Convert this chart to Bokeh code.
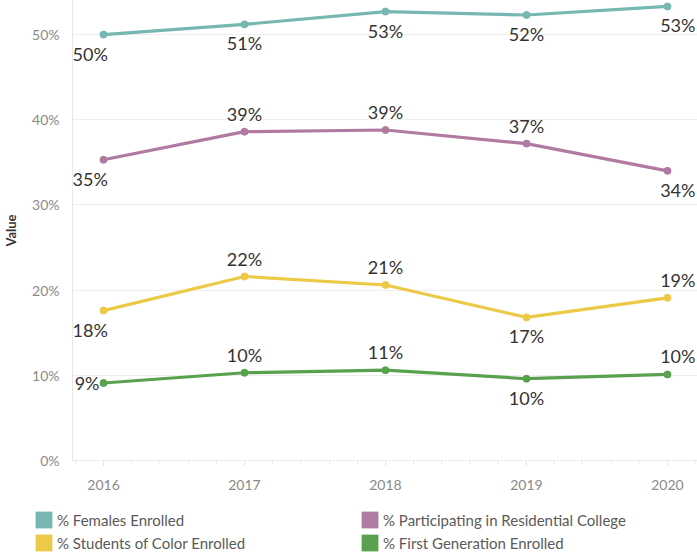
from bokeh.plotting import figure
from bokeh.layouts import column
from bokeh.models import (ColumnDataSource, Range1d, Legend, LegendItem,
                          PrintfTickFormatter, FixedTicker)
from bokeh.core.properties import value
from bokeh.embed import file_html
from bokeh.resources import INLINE

# ---- data (percent) ----
years = [2016, 2017, 2018, 2019, 2020]
females = [50.0, 51.2, 52.7, 52.3, 53.3]
residential = [35.3, 38.6, 38.8, 37.2, 34.0]
students_color = [17.6, 21.6, 20.6, 16.8, 19.1]
first_gen = [9.1, 10.3, 10.6, 9.6, 10.1]

series_names = ["% Females Enrolled", "% Participating in Residential College",
                "% Students of Color Enrolled", "% First Generation Enrolled"]
series_values = [females, residential, students_color, first_gen]
series_colors = ["#76b7b2", "#b07aa1", "#edc948", "#59a14f"]
# label placement per point (style)
placements = [
    ["below", "below", "below", "below", "below"],
    ["below", "above", "above", "above", "below"],
    ["below", "above", "above", "below", "above"],
    ["left", "above", "above", "below", "above"],
]
y_ticks = [0, 10, 20, 30, 40, 50]

FONT = "Lato"

p = figure(width=697, height=509, output_backend="svg", toolbar_location=None,
           x_range=Range1d(2015.78, 2020.213), y_range=Range1d(0, 54),
           min_border_left=72, min_border_right=0, min_border_top=0,
           min_border_bottom=49)
p.frame_align = False
p.outline_line_color = None
p.background_fill_color = "white"
p.border_fill_color = "white"

# grid
p.xgrid.grid_line_color = None
p.ygrid.grid_line_color = "#eeeeee"
p.ygrid.grid_line_width = 1
p.ygrid.ticker = FixedTicker(ticks=y_ticks)

# y axis
p.yaxis.ticker = FixedTicker(ticks=y_ticks)
p.yaxis.formatter = PrintfTickFormatter(format="%d%%")
p.yaxis.axis_label = "Value"
p.yaxis.axis_label_text_font = FONT
p.yaxis.axis_label_text_font_style = "bold"
p.yaxis.axis_label_text_font_size = "13px"
p.yaxis.axis_label_text_color = "#333333"
p.yaxis.axis_label_standoff = 10
p.yaxis.axis_line_color = "#e8e8e8"
p.yaxis.major_tick_line_color = None
p.yaxis.minor_tick_line_color = None
p.yaxis.major_label_text_font = FONT
p.yaxis.major_label_text_font_size = "14px"
p.yaxis.major_label_text_color = "#8a8a8a"
p.yaxis.major_label_standoff = 7

# x axis
p.xaxis.ticker = FixedTicker(ticks=years,
                             minor_ticks=[2015.8 + 0.2 * i for i in range(23)])
p.xaxis.axis_line_color = "#dddddd"
p.xaxis.axis_line_dash = "2 2"
p.xaxis.major_tick_line_color = "#dddddd"
p.xaxis.major_tick_out = 5
p.xaxis.major_tick_in = 0
p.xaxis.minor_tick_line_color = "#e6e6e6"
p.xaxis.minor_tick_out = 3
p.xaxis.minor_tick_in = 0
p.xaxis.major_label_text_font = FONT
p.xaxis.major_label_text_font_size = "14px"
p.xaxis.major_label_text_color = "#8a8a8a"
p.xaxis.major_label_standoff = 14

for vals, color, place in zip(series_values, series_colors, placements):
    src = ColumnDataSource(dict(x=years, y=vals))
    p.line("x", "y", source=src, line_color=color, line_width=3.2)
    p.scatter("x", "y", source=src, size=7, fill_color=color, line_color=color)

    xo, yo, al = [], [], []
    for i, pl in enumerate(place):
        if pl == "left":
            xo.append(-4); yo.append(0); al.append("right")
            continue
        yo.append(19 if pl == "below" else -18)
        if i == 0:
            xo.append(-31); al.append("left")
        elif i == len(years) - 1:
            xo.append(28); al.append("right")
        else:
            xo.append(0); al.append("center")
    lsrc = ColumnDataSource(dict(x=years, y=vals,
                                 t=[f"{round(v)}%" for v in vals],
                                 xo=xo, yo=yo, al=al))
    p.text("x", "y", text="t", source=lsrc, x_offset="xo", y_offset="yo",
           text_align="al", text_baseline="middle",
           text_font=value(FONT), text_font_size="18px", text_color="#333333")

# ---- legend in its own strip ----
lf = figure(width=697, height=44, output_backend="svg", toolbar_location=None,
            x_range=Range1d(0, 1), y_range=Range1d(0, 1),
            x_axis_location=None, y_axis_location=None,
            min_border_left=0, min_border_right=0, min_border_top=0,
            min_border_bottom=0)
lf.frame_align = False
lf.outline_line_color = None
lf.grid.grid_line_color = None

nan = float("nan")
legend_items = []
for name, color in zip(series_names, series_colors):
    swatch = lf.quad(left=[nan], right=[nan], top=[nan], bottom=[nan],
                     fill_color=color, line_color=None)
    legend_items.append(LegendItem(label=name, renderers=[swatch]))

legend = Legend(items=legend_items, ncols=2, location=(33, 0),
                orientation="horizontal",
                glyph_width=21, glyph_height=21, label_height=21,
                label_standoff=3, label_width=300, spacing=2,
                padding=0, margin=0, border_line_color=None,
                background_fill_alpha=0,
                label_text_font=FONT, label_text_font_size="15px",
                label_text_color="#5a5a5a")
lf.add_layout(legend)

layout = column(p, lf, spacing=0)
open("out.html", "w").write(file_html(layout, INLINE))
